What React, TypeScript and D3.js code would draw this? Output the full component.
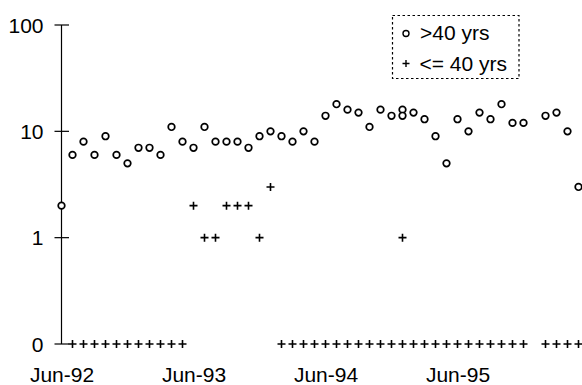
import React from "react";
import * as d3 from "d3";

// Observation month for each row (one month appears twice, one is missing)
const obsMonths = [
  "1992-06", "1992-07", "1992-08", "1992-09", "1992-10", "1992-11", "1992-12",
  "1993-01", "1993-02", "1993-03", "1993-04", "1993-05", "1993-06", "1993-07",
  "1993-08", "1993-09", "1993-10", "1993-11", "1993-12", "1994-01", "1994-02",
  "1994-03", "1994-04", "1994-05", "1994-06", "1994-07", "1994-08", "1994-09",
  "1994-10", "1994-11", "1994-12", "1995-01", "1995-01", "1995-02", "1995-03",
  "1995-04", "1995-05", "1995-06", "1995-07", "1995-08", "1995-09", "1995-10",
  "1995-11", "1995-12", "1996-02", "1996-03", "1996-04", "1996-05",
];

// Cases aged over 40 years
const over40 = [
  2, 6, 8, 6, 9, 6, 5, 7, 7, 6, 11, 8, 7, 11, 8, 8, 8, 7, 9, 10, 9, 8, 10, 8,
  14, 18, 16, 15, 11, 16, 14, 16, 14, 15, 13, 9, 5, 13, 10, 15, 13, 18, 12, 12,
  14, 15, 10, 3,
];

// Cases aged 40 years or younger
const under40: (number | null)[] = [
  null, 0, 0, 0, 0, 0, 0, 0, 0, 0, 0, 0, 2, 1, 1, 2, 2, 2, 1, 3, 0, 0, 0, 0,
  0, 0, 0, 0, 0, 0, 0, 0, 1, 0, 0, 0, 0, 0, 0, 0, 0, 0, 0, 0, 0, 0, 0, 0,
];

const yTickValues = [0, 1, 10, 100];
const yTickLabels = ["0", "1", "10", "100"];
const xTickMonths = ["1992-06", "1993-06", "1994-06", "1995-06"];
const xTickLabels = ["Jun-92", "Jun-93", "Jun-94", "Jun-95"];
const legendLabels = [">40 yrs", "<= 40 yrs"];

const W = 582;
const H = 385;
const FONT = "'Liberation Sans', Arial, Helvetica, sans-serif";
const ZERO_FLOOR = 0.1;

const parseMonth = d3.timeParse("%Y-%m");
const origin = parseMonth(obsMonths[0]) as Date;
const monthIndex = (s: string) => d3.timeMonth.count(origin, parseMonth(s) as Date);

const x = d3.scaleLinear().domain([0, 47]).range([61.5, 578.5]);
const y = d3.scaleLog().domain([ZERO_FLOOR, 100]).range([344, 25]);
const yPos = (v: number) => y(Math.max(v, ZERO_FLOOR));

const plusPath = (s: number) => `M${-s},0H${s}M0,${-s}V${s}`;

export default function App() {
  const axisX = x(0);
  return (
    <svg
      width={W}
      height={H}
      style={{ position: "absolute", left: 0, top: 0, background: "#fff" }}
      fontFamily={FONT}
    >
      {/* y axis */}
      <line x1={axisX} x2={axisX} y1={yPos(100)} y2={yPos(0)} stroke="#000" strokeWidth={1.2} />
      {yTickValues.map((v, i) => (
        <g key={v} transform={`translate(0,${yPos(v)})`}>
          <line x1={axisX - 7} x2={axisX + 7.5} stroke="#000" strokeWidth={1.2} />
          <text x={43.5} dy="0.36em" textAnchor="end" fontSize={21} fill="#000">
            {yTickLabels[i]}
          </text>
        </g>
      ))}

      {/* x labels */}
      {xTickMonths.map((m, i) => (
        <text
          key={m}
          x={x(monthIndex(m)) + 0.5}
          y={382}
          textAnchor="middle"
          fontSize={21}
          fill="#000"
        >
          {xTickLabels[i]}
        </text>
      ))}

      {/* >40 yrs */}
      {over40.map((v, i) => (
        <circle
          key={`o${i}`}
          cx={x(monthIndex(obsMonths[i]))}
          cy={yPos(v)}
          r={3.3}
          fill="#fff"
          stroke="#000"
          strokeWidth={1.7}
        />
      ))}

      {/* <= 40 yrs */}
      {under40.map((v, i) =>
        v === null ? null : (
          <path
            key={`p${i}`}
            transform={`translate(${x(monthIndex(obsMonths[i]))},${yPos(v)})`}
            d={plusPath(4)}
            stroke="#000"
            strokeWidth={1.6}
            fill="none"
          />
        )
      )}

      {/* legend */}
      <g>
        <rect
          x={392.5}
          y={15.5}
          width={126.5}
          height={63}
          fill="#fff"
          stroke="#000"
          strokeWidth={1.2}
          strokeDasharray="2.5,2.5"
        />
        <circle cx={406} cy={33.5} r={3} fill="#fff" stroke="#000" strokeWidth={1.4} />
        <text x={420} y={39.5} fontSize={21} fill="#000">
          {legendLabels[0]}
        </text>
        <path transform="translate(406,63.5)" d={plusPath(3.5)} stroke="#000" strokeWidth={1.4} />
        <text x={419.5} y={71} fontSize={21} fill="#000">
          {legendLabels[1]}
        </text>
      </g>
    </svg>
  );
}
